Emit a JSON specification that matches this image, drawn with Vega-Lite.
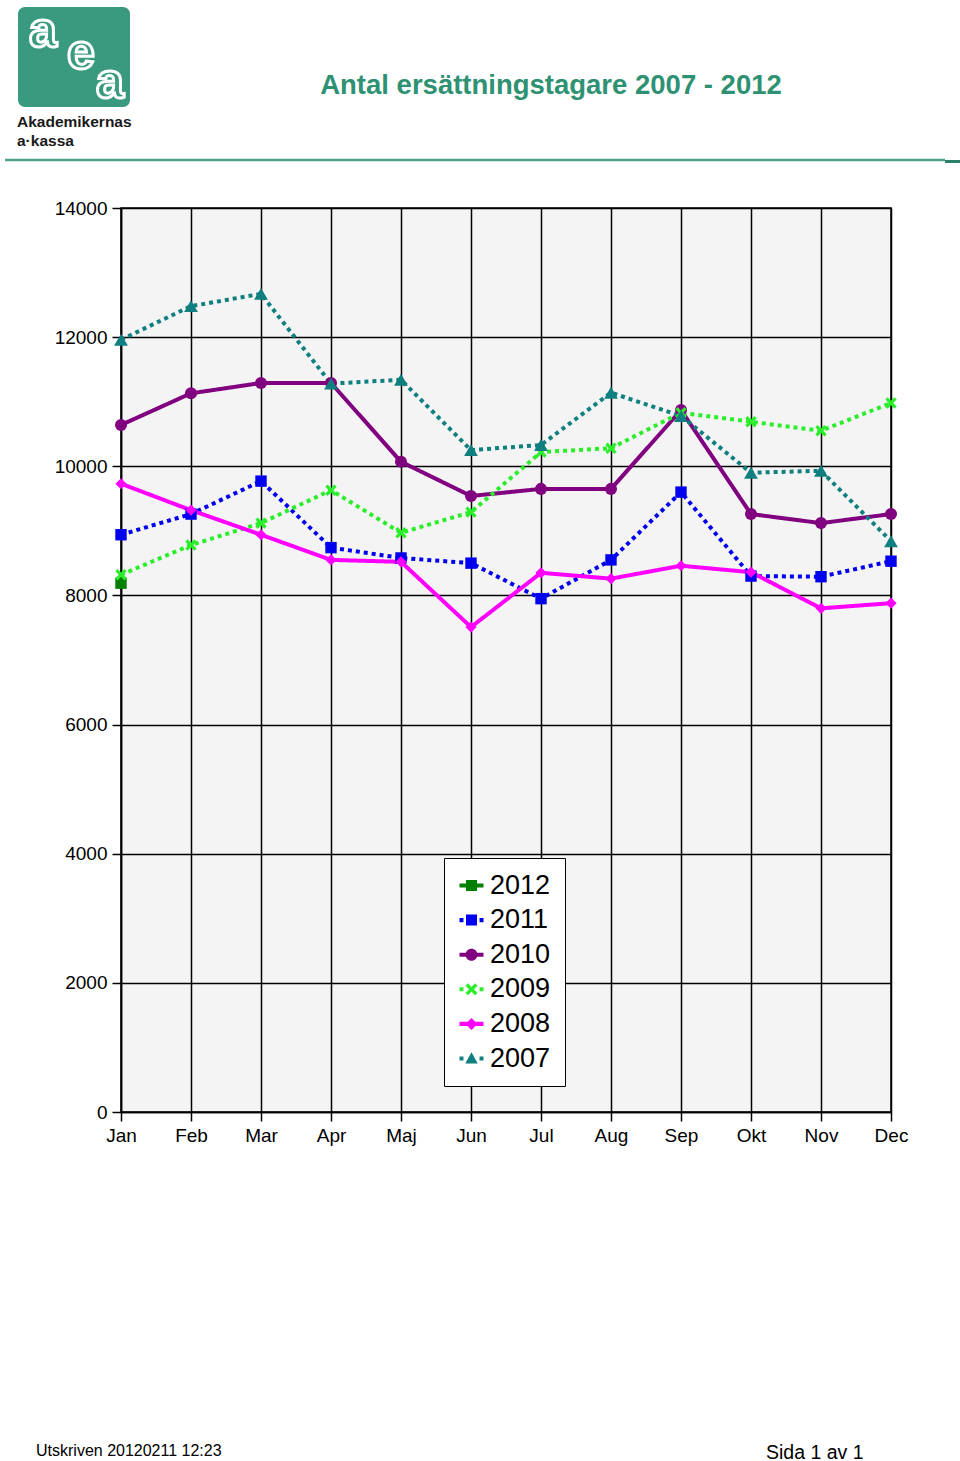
{
  "$schema": "https://vega.github.io/schema/vega-lite/v6.json",
  "padding": 0,
  "spacing": 0,
  "background": "white",
  "config": {"view": {"stroke": null}, "font": "Liberation Sans"},
  "datasets": {
    "series": [
      {"month": "Jan", "year": "2012", "value": 8190},
      {"month": "Jan", "year": "2011", "value": 8940},
      {"month": "Feb", "year": "2011", "value": 9260},
      {"month": "Mar", "year": "2011", "value": 9770},
      {"month": "Apr", "year": "2011", "value": 8740},
      {"month": "Maj", "year": "2011", "value": 8580},
      {"month": "Jun", "year": "2011", "value": 8500},
      {"month": "Jul", "year": "2011", "value": 7950},
      {"month": "Aug", "year": "2011", "value": 8550},
      {"month": "Sep", "year": "2011", "value": 9600},
      {"month": "Okt", "year": "2011", "value": 8300},
      {"month": "Nov", "year": "2011", "value": 8290},
      {"month": "Dec", "year": "2011", "value": 8530},
      {"month": "Jan", "year": "2010", "value": 10640},
      {"month": "Feb", "year": "2010", "value": 11130},
      {"month": "Mar", "year": "2010", "value": 11290},
      {"month": "Apr", "year": "2010", "value": 11290},
      {"month": "Maj", "year": "2010", "value": 10070},
      {"month": "Jun", "year": "2010", "value": 9540},
      {"month": "Jul", "year": "2010", "value": 9650},
      {"month": "Aug", "year": "2010", "value": 9650},
      {"month": "Sep", "year": "2010", "value": 10870},
      {"month": "Okt", "year": "2010", "value": 9260},
      {"month": "Nov", "year": "2010", "value": 9120},
      {"month": "Dec", "year": "2010", "value": 9260},
      {"month": "Jan", "year": "2009", "value": 8320},
      {"month": "Feb", "year": "2009", "value": 8780},
      {"month": "Mar", "year": "2009", "value": 9120},
      {"month": "Apr", "year": "2009", "value": 9630},
      {"month": "Maj", "year": "2009", "value": 8970},
      {"month": "Jun", "year": "2009", "value": 9290},
      {"month": "Jul", "year": "2009", "value": 10220},
      {"month": "Aug", "year": "2009", "value": 10280},
      {"month": "Sep", "year": "2009", "value": 10830},
      {"month": "Okt", "year": "2009", "value": 10690},
      {"month": "Nov", "year": "2009", "value": 10550},
      {"month": "Dec", "year": "2009", "value": 10980},
      {"month": "Jan", "year": "2008", "value": 9730},
      {"month": "Feb", "year": "2008", "value": 9320},
      {"month": "Mar", "year": "2008", "value": 8940},
      {"month": "Apr", "year": "2008", "value": 8550},
      {"month": "Maj", "year": "2008", "value": 8520},
      {"month": "Jun", "year": "2008", "value": 7510},
      {"month": "Jul", "year": "2008", "value": 8350},
      {"month": "Aug", "year": "2008", "value": 8260},
      {"month": "Sep", "year": "2008", "value": 8460},
      {"month": "Okt", "year": "2008", "value": 8360},
      {"month": "Nov", "year": "2008", "value": 7800},
      {"month": "Dec", "year": "2008", "value": 7880},
      {"month": "Jan", "year": "2007", "value": 11960},
      {"month": "Feb", "year": "2007", "value": 12480},
      {"month": "Mar", "year": "2007", "value": 12670},
      {"month": "Apr", "year": "2007", "value": 11280},
      {"month": "Maj", "year": "2007", "value": 11340},
      {"month": "Jun", "year": "2007", "value": 10250},
      {"month": "Jul", "year": "2007", "value": 10330},
      {"month": "Aug", "year": "2007", "value": 11140},
      {"month": "Sep", "year": "2007", "value": 10780},
      {"month": "Okt", "year": "2007", "value": 9900},
      {"month": "Nov", "year": "2007", "value": 9930},
      {"month": "Dec", "year": "2007", "value": 8840}
    ]
  },
  "vconcat": [
    {
      "width": 839,
      "height": 198,
      "data": {"values": [{}]},
      "layer": [
        {
          "mark": {"type": "rect", "fill": "#3a9a80", "cornerRadius": 7},
          "encoding": {
            "x": {"datum": 18, "type": "quantitative", "scale": {"domain": [121, 960], "nice": false, "zero": false}, "axis": null},
            "x2": {"datum": 130},
            "y": {"datum": 7, "type": "quantitative", "scale": {"domain": [0, 198], "reverse": true, "nice": false, "zero": false}, "axis": null},
            "y2": {"datum": 107}
          }
        },
        {
          "mark": {"type": "text", "text": "a", "fontSize": 50, "fontWeight": "bold", "fill": "#3a9a80", "stroke": "white", "strokeWidth": 3, "baseline": "alphabetic", "align": "center"},
          "encoding": {
            "x": {"datum": 43, "type": "quantitative", "scale": {"domain": [121, 960], "nice": false, "zero": false}, "axis": null},
            "y": {"datum": 47, "type": "quantitative", "scale": {"domain": [0, 198], "reverse": true, "nice": false, "zero": false}, "axis": null}
          }
        },
        {
          "mark": {"type": "text", "text": "e", "fontSize": 50, "fontWeight": "bold", "fill": "#3a9a80", "stroke": "white", "strokeWidth": 3, "baseline": "alphabetic", "align": "center"},
          "encoding": {
            "x": {"datum": 81, "type": "quantitative", "scale": {"domain": [121, 960], "nice": false, "zero": false}, "axis": null},
            "y": {"datum": 69, "type": "quantitative", "scale": {"domain": [0, 198], "reverse": true, "nice": false, "zero": false}, "axis": null}
          }
        },
        {
          "mark": {"type": "text", "text": "a", "fontSize": 50, "fontWeight": "bold", "fill": "#3a9a80", "stroke": "white", "strokeWidth": 3, "baseline": "alphabetic", "align": "center"},
          "encoding": {
            "x": {"datum": 110, "type": "quantitative", "scale": {"domain": [121, 960], "nice": false, "zero": false}, "axis": null},
            "y": {"datum": 98, "type": "quantitative", "scale": {"domain": [0, 198], "reverse": true, "nice": false, "zero": false}, "axis": null}
          }
        },
        {
          "mark": {"type": "text", "text": "Akademikernas", "fontSize": 15.5, "fontWeight": "bold", "fill": "#1a1a1a", "baseline": "middle", "align": "left"},
          "encoding": {
            "x": {"datum": 17, "type": "quantitative", "scale": {"domain": [121, 960], "nice": false, "zero": false}, "axis": null},
            "y": {"datum": 122, "type": "quantitative", "scale": {"domain": [0, 198], "reverse": true, "nice": false, "zero": false}, "axis": null}
          }
        },
        {
          "mark": {"type": "text", "text": "a·kassa", "fontSize": 15.5, "fontWeight": "bold", "fill": "#1a1a1a", "baseline": "middle", "align": "left"},
          "encoding": {
            "x": {"datum": 17, "type": "quantitative", "scale": {"domain": [121, 960], "nice": false, "zero": false}, "axis": null},
            "y": {"datum": 141, "type": "quantitative", "scale": {"domain": [0, 198], "reverse": true, "nice": false, "zero": false}, "axis": null}
          }
        },
        {
          "mark": {"type": "text", "text": "Antal ersättningstagare 2007 - 2012", "fontSize": 27.5, "fontWeight": "bold", "fill": "#2e9172", "baseline": "middle", "align": "center"},
          "encoding": {
            "x": {"datum": 551, "type": "quantitative", "scale": {"domain": [121, 960], "nice": false, "zero": false}, "axis": null},
            "y": {"datum": 86, "type": "quantitative", "scale": {"domain": [0, 198], "reverse": true, "nice": false, "zero": false}, "axis": null}
          }
        },
        {
          "mark": {"type": "rule", "stroke": "#4ea28c", "strokeWidth": 2.5},
          "encoding": {
            "x": {"datum": 5, "type": "quantitative", "scale": {"domain": [121, 960], "nice": false, "zero": false}, "axis": null},
            "x2": {"datum": 945},
            "y": {"datum": 160, "type": "quantitative", "scale": {"domain": [0, 198], "reverse": true, "nice": false, "zero": false}, "axis": null}
          }
        },
        {
          "mark": {"type": "rule", "stroke": "#2e7f68", "strokeWidth": 3},
          "encoding": {
            "x": {"datum": 945, "type": "quantitative", "scale": {"domain": [121, 960], "nice": false, "zero": false}, "axis": null},
            "x2": {"datum": 960},
            "y": {"datum": 161.5, "type": "quantitative", "scale": {"domain": [0, 198], "reverse": true, "nice": false, "zero": false}, "axis": null}
          }
        }
      ]
    },
    {
      "width": 770,
      "height": 904,
      "view": {"fill": "#f4f4f4", "stroke": "black", "strokeWidth": 1.5},
      "data": {"name": "series"},
      "encoding": {
        "x": {
          "field": "month",
          "type": "ordinal",
          "scale": {"type": "point", "padding": 0, "domain": ["Jan", "Feb", "Mar", "Apr", "Maj", "Jun", "Jul", "Aug", "Sep", "Okt", "Nov", "Dec"]},
          "axis": {"title": null, "labelAngle": 0, "labelFontSize": 19, "labelColor": "black", "labelPadding": 5, "tickSize": 9, "tickColor": "black", "tickWidth": 1.5, "domainColor": "black", "domainWidth": 1.5, "grid": true, "gridColor": "black", "gridWidth": 1.5, "gridOpacity": 1}
        },
        "y": {
          "field": "value",
          "type": "quantitative",
          "scale": {"domain": [0, 14000], "nice": false},
          "axis": {"title": null, "values": [0, 2000, 4000, 6000, 8000, 10000, 12000, 14000], "format": "d", "labelFontSize": 19, "labelColor": "black", "labelPadding": 5, "tickSize": 9, "tickColor": "black", "tickWidth": 1.5, "domainColor": "black", "domainWidth": 1.5, "grid": true, "gridColor": "black", "gridWidth": 1.5, "gridOpacity": 1, "minExtent": 120}
        },
        "color": {
          "field": "year", "type": "nominal",
          "scale": {"domain": ["2012", "2011", "2010", "2009", "2008", "2007"], "range": ["#007f00", "#0000ee", "#800080", "#2bee2b", "#ff00ff", "#0f7f7f"]}
        }
      },
      "layer": [
        {
          "transform": [{"filter": "false"}],
          "mark": {"type": "point", "filled": true, "opacity": 1},
          "encoding": {
            "color": {
              "field": "year", "type": "nominal",
              "scale": {"domain": ["2012", "2011", "2010", "2009", "2008", "2007"], "range": ["#007f00", "#0000ee", "#800080", "#2bee2b", "#ff00ff", "#0f7f7f"]},
              "legend": {
                "title": null, "orient": "none", "legendX": 323, "legendY": 858,
                "fillColor": "white", "strokeColor": "black", "padding": 14, "rowPadding": 6.6,
                "symbolSize": 576, "symbolStrokeWidth": 0, "symbolOpacity": 1, "labelFontSize": 27, "labelColor": "black", "labelOffset": 5
              }
            },
            "shape": {
              "field": "year", "type": "nominal",
              "scale": {"domain": ["2012", "2011", "2010", "2009", "2008", "2007"], "range": [
                "M-1,-0.17H1V0.17H-1Z M-0.46,-0.46H0.46V0.46H-0.46Z",
                "M-1,-0.17H-0.67V0.17H-1Z M0.67,-0.17H1V0.17H0.67Z M-0.46,-0.46H0.46V0.46H-0.46Z",
                "M-1,-0.17H1V0.17H-1Z M-0.5,0A0.5,0.5 0 1,1 0.5,0A0.5,0.5 0 1,1 -0.5,0Z",
                "M-1,-0.17H-0.67V0.17H-1Z M0.67,-0.17H1V0.17H0.67Z M-0.5,-0.3L-0.3,-0.5L0,-0.2L0.3,-0.5L0.5,-0.3L0.2,0L0.5,0.3L0.3,0.5L0,0.2L-0.3,0.5L-0.5,0.3L-0.2,0Z",
                "M-1,-0.17H1V0.17H-1Z M0,-0.5L0.5,0L0,0.5L-0.5,0Z",
                "M-1,-0.17H-0.67V0.17H-1Z M0.67,-0.17H1V0.17H0.67Z M0,-0.52L0.52,0.42H-0.52Z"
              ]},
              "legend": {
                "title": null, "orient": "none", "legendX": 323, "legendY": 858,
                "fillColor": "white", "strokeColor": "black", "padding": 14, "rowPadding": 6.6,
                "symbolSize": 576, "symbolStrokeWidth": 0, "symbolOpacity": 1, "labelFontSize": 27, "labelColor": "black", "labelOffset": 5
              }
            }
          }
        },
        {
          "mark": {"type": "line", "strokeWidth": 4, "strokeCap": "butt"},
          "encoding": {
            "strokeDash": {
              "field": "year", "type": "nominal",
              "scale": {"domain": ["2012", "2011", "2010", "2009", "2008", "2007"], "range": [[1, 0], [4, 4], [1, 0], [4, 4], [1, 0], [4, 4]]},
              "legend": null
            }
          }
        },
        {
          "transform": [{"filter": "datum.year == '2012' || datum.year == '2011'"}],
          "mark": {"type": "point", "shape": "square", "filled": true, "opacity": 1, "size": 130}
        },
        {
          "transform": [{"filter": "datum.year == '2010'"}],
          "mark": {"type": "point", "shape": "circle", "filled": true, "opacity": 1, "size": 145}
        },
        {
          "transform": [{"filter": "datum.year == '2009'"}],
          "mark": {"type": "point", "shape": "M-1,-0.6L-0.6,-1L0,-0.4L0.6,-1L1,-0.6L0.4,0L1,0.6L0.6,1L0,0.4L-0.6,1L-1,0.6L-0.4,0Z", "filled": true, "opacity": 1, "size": 130}
        },
        {
          "transform": [{"filter": "datum.year == '2008'"}],
          "mark": {"type": "point", "shape": "diamond", "filled": true, "opacity": 1, "size": 125}
        },
        {
          "transform": [{"filter": "datum.year == '2007'"}],
          "mark": {"type": "point", "shape": "triangle-up", "filled": true, "opacity": 1, "size": 190}
        }
      ]
    },
    {
      "width": 839,
      "height": 316,
      "data": {"values": [{}]},
      "layer": [
        {
          "mark": {"type": "text", "text": "Utskriven 20120211 12:23", "fontSize": 16, "fill": "black", "baseline": "middle", "align": "left"},
          "encoding": {
            "x": {"datum": 36, "type": "quantitative", "scale": {"domain": [121, 960], "nice": false, "zero": false}, "axis": null},
            "y": {"datum": 305, "type": "quantitative", "scale": {"domain": [0, 316], "reverse": true, "nice": false, "zero": false}, "axis": null}
          }
        },
        {
          "mark": {"type": "text", "text": "Sida 1 av 1", "fontSize": 19.5, "fill": "black", "baseline": "middle", "align": "left"},
          "encoding": {
            "x": {"datum": 766, "type": "quantitative", "scale": {"domain": [121, 960], "nice": false, "zero": false}, "axis": null},
            "y": {"datum": 307, "type": "quantitative", "scale": {"domain": [0, 316], "reverse": true, "nice": false, "zero": false}, "axis": null}
          }
        }
      ]
    }
  ]
}
